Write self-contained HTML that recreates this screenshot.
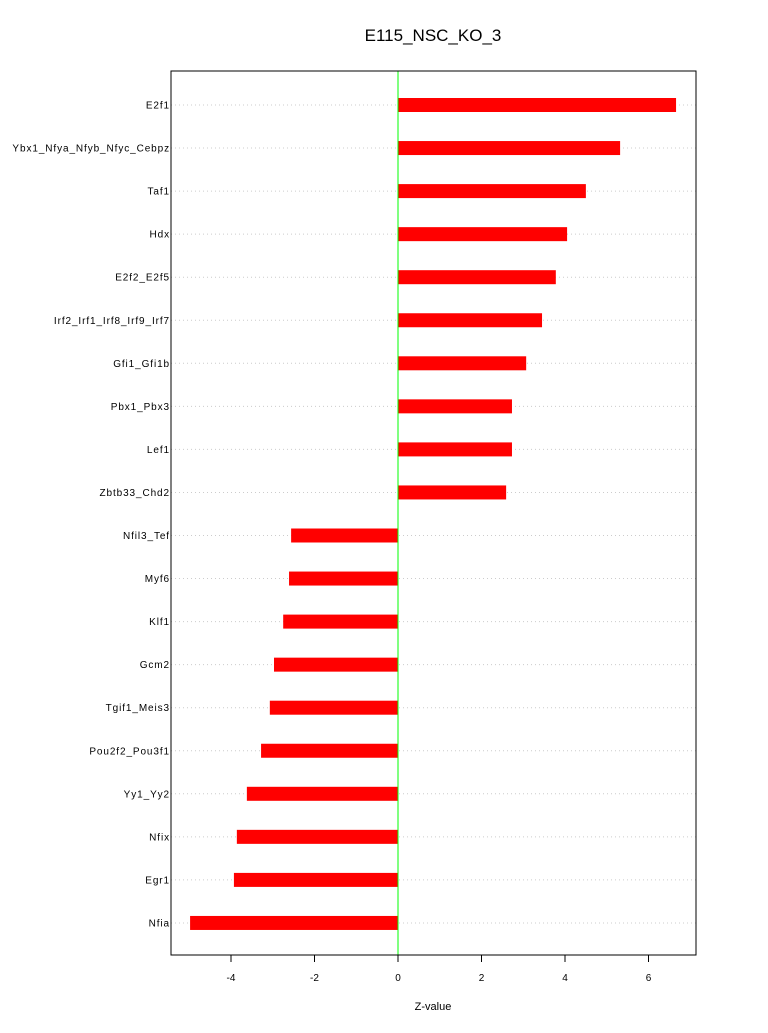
<!DOCTYPE html>
<html><head><meta charset="utf-8"><style>
body{margin:0;background:#fff;font-family:"Liberation Sans",sans-serif}
</style></head><body>
<svg width="768" height="1028" xmlns="http://www.w3.org/2000/svg" font-family="Liberation Sans, sans-serif">
<text x="433" y="41" font-size="17" text-anchor="middle">E115_NSC_KO_3</text>
<g id="plot"></g>
<rect x="171" y="71" width="525" height="884" fill="none" stroke="#000" stroke-width="1"/>
<text x="433" y="1010" font-size="11" text-anchor="middle">Z-value</text>
</svg>
<script>
const categories=["E2f1","Ybx1_Nfya_Nfyb_Nfyc_Cebpz","Taf1","Hdx","E2f2_E2f5","Irf2_Irf1_Irf8_Irf9_Irf7","Gfi1_Gfi1b","Pbx1_Pbx3","Lef1","Zbtb33_Chd2","Nfil3_Tef","Myf6","Klf1","Gcm2","Tgif1_Meis3","Pou2f2_Pou3f1","Yy1_Yy2","Nfix","Egr1","Nfia"];
const values=[6.66,5.32,4.50,4.05,3.78,3.45,3.07,2.73,2.73,2.59,-2.56,-2.61,-2.75,-2.97,-3.07,-3.28,-3.62,-3.86,-3.93,-4.98];
const xTicks=[-4,-2,0,2,4,6];
const NS="http://www.w3.org/2000/svg";
const g=document.getElementById('plot');
const xs=v=>398+v*41.75;
const ys=i=>105+i*43.05;
function mk(t,a){const e=document.createElementNS(NS,t);for(const k in a)e.setAttribute(k,a[k]);g.appendChild(e);return e;}
categories.forEach((c,i)=>{
 const y=ys(i);
 const gl=mk('line',{x1:171,x2:696,y1:y,y2:y,stroke:'#ccc','stroke-dasharray':'1,3'});
 
 
 const v=values[i];
 const b=mk('rect',{x:Math.min(xs(0),xs(v)),y:y-7,width:Math.abs(xs(v)-xs(0)),height:14,fill:'#ff0000'});
 
 
 const t=mk('text',{x:170,y:y+3.5,'font-size':10,'text-anchor':'end','letter-spacing':'0.9'});
 t.textContent=c;
 
 
});
const zl=mk('line',{x1:xs(0),x2:xs(0),y1:71,y2:955,stroke:'#00ff00'});


const ax=mk('line',{x1:xs(-4),x2:xs(6),y1:955,y2:955,stroke:'#000'});


xTicks.forEach(v=>{
 const tk=mk('line',{x1:xs(v),x2:xs(v),y1:955,y2:962,stroke:'#000'});
 
 
 const tl=mk('text',{x:xs(v),y:981,'font-size':10,'text-anchor':'middle'});
 tl.textContent=v;
 
 
});
</script>
</body></html>
